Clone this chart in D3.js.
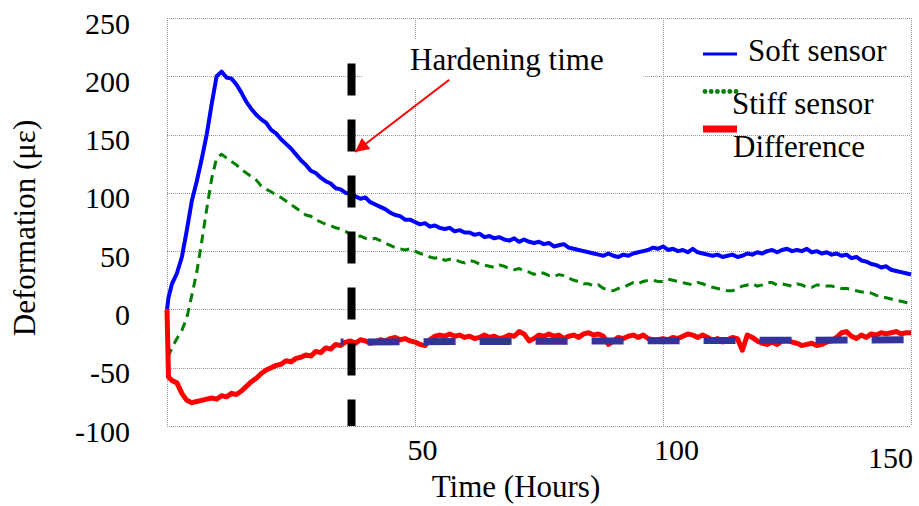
<!DOCTYPE html>
<html>
<head>
<meta charset="utf-8">
<script src="https://cdn.jsdelivr.net/npm/d3@7"></script>
<style>
    body { margin: 0; background: #fff; }
    svg { display: block; font-family: "Liberation Serif", "Times New Roman", serif; }
</style>
</head>
<body>
<svg width="919" height="506"></svg>
<script>
// hours: 0, 0.3, then every hour up to 150
var times = [0, 0.3].concat(d3.range(1, 151));

var softSensor = [0, 10, 22, 31, 45, 68, 93, 110, 129, 150, 176, 200, 204, 199, 198, 193, 186, 178, 172, 167, 163,
    160, 154, 151, 146, 142, 138, 133, 128, 124, 119,
    117, 113, 110, 108, 104, 103, 100, 99, 97, 95,
    96, 92, 90, 88, 86, 83, 81, 80, 77, 77,
    75, 73, 74, 71, 72, 70, 69, 70, 67, 68,
    66, 66, 64, 65, 62, 63, 61, 62, 60, 59,
    61, 58, 60, 58, 57, 58, 56, 57, 54, 55,
    56, 53, 52, 51, 50, 49, 48, 47, 46, 48,
    46, 45, 47, 46, 48, 49, 50, 51, 53, 52,
    54, 51, 52, 50, 51, 49, 52, 49, 48, 47,
    46, 47, 45, 46, 47, 45, 46, 48, 47, 49,
    48, 50, 51, 49, 51, 52, 50, 51, 50, 52,
    49, 50, 48, 49, 47, 48, 46, 47, 44, 45,
    42, 41, 39, 38, 36, 37, 34, 33, 32, 31, 30];

var stiffSensor = [-40, -40, -33, -25, -18, -7, 12, 32, 58, 86, 112, 130, 133, 130, 127, 124, 120, 117, 114, 111, 106,
    103, 101, 98, 96, 93, 90, 87, 84, 81, 80,
    77, 75, 73, 72, 70, 69, 67, 64, 62, 63,
    61, 60, 61, 59, 57, 55, 53, 52, 51, 52,
    50, 48, 47, 45, 44, 45, 42, 43, 43, 41,
    40, 42, 41, 39, 38, 37, 36, 38, 37, 35,
    34, 35, 33, 32, 30, 32, 31, 29, 28, 30,
    29, 27, 25, 24, 22, 22, 20, 21, 18, 17,
    16, 18, 19, 21, 23, 22, 24, 25, 25, 24,
    24, 26, 25, 24, 23, 22, 21, 23, 22, 20,
    19, 18, 17, 16, 16, 18, 20, 21, 22, 20,
    21, 23, 23, 21, 22, 21, 20, 22, 21, 19,
    19, 21, 21, 20, 20, 19, 18, 18, 17, 16,
    15, 15, 14, 12, 11, 10, 9, 8, 7, 6, 5];

var difference = [0, -58, -61, -63, -72, -78, -80, -79, -78, -77, -76, -77, -74, -75, -72, -73, -70, -66, -62, -59, -55,
    -52, -50, -48, -47, -44, -45, -42, -41, -39, -40,
    -36, -37, -33, -34, -30, -31, -28, -27, -29, -26,
    -27, -29, -28, -26, -27, -25, -24, -26, -25, -27,
    -28, -30, -31, -26, -23, -22, -23, -21, -23, -22,
    -24, -23, -25, -24, -22, -24, -23, -25, -24, -22,
    -23, -19, -21, -27, -25, -22, -23, -21, -23, -22,
    -25, -23, -22, -24, -21, -20, -22, -21, -23, -30,
    -27, -24, -25, -23, -22, -24, -22, -25, -26, -26,
    -25, -26, -24, -25, -23, -21, -22, -24, -22, -24,
    -27, -25, -28, -26, -24, -25, -35, -22, -24, -27,
    -29, -30, -28, -30, -27, -26, -28, -29, -31, -30,
    -29, -31, -30, -28, -27, -24, -20, -19, -23, -25,
    -22, -24, -21, -22, -20, -21, -20, -19, -21, -20, -20];

var trendTimes = [35, 150],
    trendValues = [-28, -26];

var hardeningTime = 37.2;
var arrowFrom = [56.9, 197],
    arrowTo = [37.9, 135];

var yTicks = [-100, -50, 0, 50, 100, 150, 200, 250],
    xTicks = [50, 100, 150],
    xGrid = [0, 50, 100, 150];

var legendNames = ["Soft sensor", "Stiff sensor", "Difference"];

var svg = d3.select("svg");

var x = d3.scaleLinear().domain([0, 150]).range([167, 911]),
    y = d3.scaleLinear().domain([-100, 250]).range([426, 18]);

// grid (the plot border is drawn the same dotted grey)
var grid = svg.append("g")
    .attr("stroke", "#999")
    .attr("stroke-width", 1)
    .attr("stroke-dasharray", "1,1")
    .attr("shape-rendering", "crispEdges");

grid.selectAll(".hgrid")
    .data(yTicks)
    .enter().append("line")
    .attr("class", "hgrid")
    .attr("x1", x(0))
    .attr("x2", x(150))
    .attr("y1", function (d) { return Math.round(y(d)) + 0.5; })
    .attr("y2", function (d) { return Math.round(y(d)) + 0.5; });

grid.selectAll(".vgrid")
    .data(xGrid)
    .enter().append("line")
    .attr("class", "vgrid")
    .attr("x1", function (d) { return Math.round(x(d)) + 0.5; })
    .attr("x2", function (d) { return Math.round(x(d)) + 0.5; })
    .attr("y1", y(250))
    .attr("y2", y(-100));

// axes, labels only (plain hyphen for negatives)
var plain = function (d) { return String(d); };

var yAxis = svg.append("g")
    .attr("transform", "translate(" + x(0) + ",0)")
    .call(d3.axisLeft(y).tickValues(yTicks).tickFormat(plain).tickSize(0).tickPadding(37));

var xAxis = svg.append("g")
    .attr("transform", "translate(0," + y(-100) + ")")
    .call(d3.axisBottom(x).tickValues(xTicks).tickFormat(plain).tickSize(0).tickPadding(13));

var xShift = { 50: [7, 0], 100: [13, 0], 150: [-21, 8] };

svg.selectAll(".domain").remove();
yAxis.selectAll("text")
    .attr("dy", "0.5em")
    .attr("fill", "#000")
    .style("font-size", "30px")
    .style("font-family", "Liberation Serif");
xAxis.selectAll("text")
    .attr("fill", "#000")
    .attr("dx", function (d) { return xShift[d][0]; })
    .attr("dy", function (d) { return (21 + xShift[d][1]) + "px"; })
    .style("font-size", "30px")
    .style("font-family", "Liberation Serif");

svg.append("text")
    .attr("x", 516)
    .attr("y", 497)
    .attr("text-anchor", "middle")
    .style("font-size", "31px")
    .text("Time (Hours)");

svg.append("text")
    .attr("transform", "translate(35,228) rotate(-90)")
    .attr("text-anchor", "middle")
    .style("font-size", "31px")
    .text("Deformation (\u03bc\u03b5)");

// series
function seriesLine(values) {
    return d3.line()
        .x(function (d, i) { return x(times[i]); })
        .y(function (d) { return y(d); })(values);
}

svg.append("path")
    .attr("d", seriesLine(stiffSensor))
    .attr("fill", "none")
    .attr("stroke", "#008000")
    .attr("stroke-width", 3)
    .attr("stroke-dasharray", "9,6");

svg.append("path")
    .attr("d", seriesLine(softSensor))
    .attr("fill", "none")
    .attr("stroke", "#0000ff")
    .attr("stroke-width", 4)
    .attr("stroke-linejoin", "round");

svg.append("path")
    .attr("d", seriesLine(difference))
    .attr("fill", "none")
    .attr("stroke", "#ff0000")
    .attr("stroke-width", 5)
    .attr("stroke-linejoin", "round");

// trend of the difference after hardening
svg.append("path")
    .attr("d", d3.line()
        .x(function (d, i) { return x(trendTimes[i]); })
        .y(function (d) { return y(d); })(trendValues))
    .attr("fill", "none")
    .attr("stroke", "#333399")
    .attr("stroke-width", 7)
    .attr("stroke-dasharray", "32,24")
    .attr("stroke-dashoffset", 29);

// hardening time marker
svg.append("line")
    .attr("x1", x(hardeningTime))
    .attr("x2", x(hardeningTime))
    .attr("y1", y(211))
    .attr("y2", y(-100))
    .attr("stroke", "#000")
    .attr("stroke-width", 8)
    .attr("stroke-dasharray", "32,24");

// annotation with its white box
var note = svg.append("g");
var noteBox = note.append("rect").attr("fill", "#fff");
var noteText = note.append("text")
    .attr("x", 410)
    .attr("y", 70)
    .style("font-size", "31px")
    .text("Hardening time");
var bb = noteText.node().getBBox();
noteBox.attr("x", bb.x - 47).attr("y", 40).attr("width", bb.width + 87).attr("height", 50);

svg.append("defs").append("marker")
    .attr("id", "head")
    .attr("viewBox", "0 0 10 10")
    .attr("refX", 10)
    .attr("refY", 5)
    .attr("markerWidth", 8)
    .attr("markerHeight", 7)
    .attr("markerUnits", "strokeWidth")
    .attr("orient", "auto")
    .append("path")
    .attr("d", "M0,0L10,5L0,10z")
    .attr("fill", "#ff0000");

svg.append("line")
    .attr("x1", x(arrowFrom[0]))
    .attr("y1", y(arrowFrom[1]))
    .attr("x2", x(arrowTo[0]))
    .attr("y2", y(arrowTo[1]))
    .attr("stroke", "#ff0000")
    .attr("stroke-width", 2)
    .attr("marker-end", "url(#head)");

// legend
var legend = svg.append("g");
legend.append("line")
    .attr("x1", 703).attr("x2", 737).attr("y1", 54).attr("y2", 54)
    .attr("stroke", "#0000ff").attr("stroke-width", 3);
legend.selectAll(".dot")
    .data(d3.range(6))
    .enter().append("circle")
    .attr("cx", function (d) { return 705 + d * 6.2; })
    .attr("cy", 91.5)
    .attr("r", 2.4)
    .attr("fill", "#008000");
legend.append("line")
    .attr("x1", 703).attr("x2", 737).attr("y1", 129).attr("y2", 129)
    .attr("stroke", "#ff0000").attr("stroke-width", 7);

var legendPos = [[748, 61], [732, 114], [733, 157]];
legend.selectAll(".label")
    .data(legendNames)
    .enter().append("text")
    .attr("class", "label")
    .attr("x", function (d, i) { return legendPos[i][0]; })
    .attr("y", function (d, i) { return legendPos[i][1]; })
    .style("font-size", "31px")
    .text(function (d) { return d; });
</script>
</body>
</html>
